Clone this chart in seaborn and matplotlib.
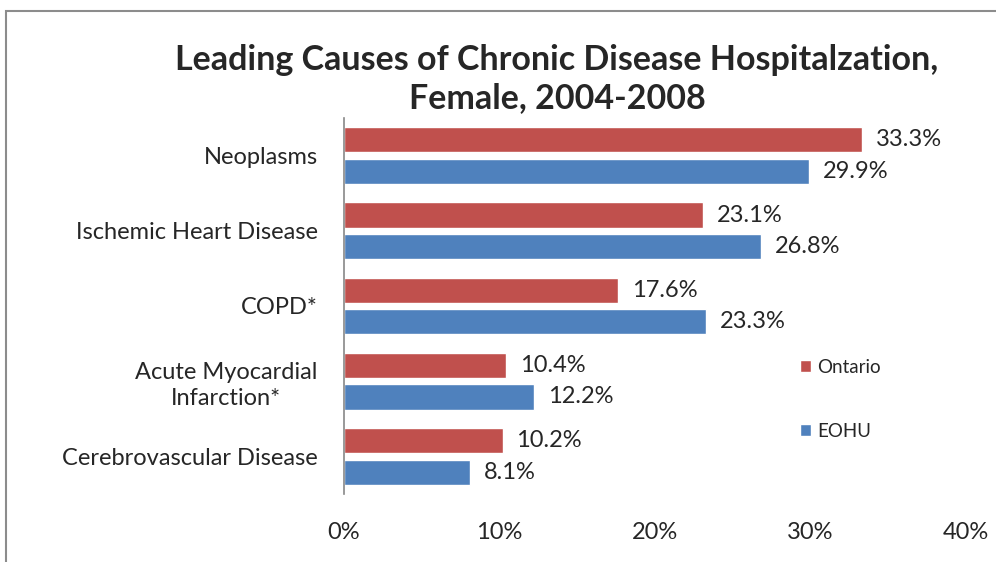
import pandas as pd
import matplotlib
matplotlib.use('Agg')
import matplotlib.pyplot as plt
import seaborn as sns
from matplotlib.patches import Rectangle, Patch

causas = ['Neoplasms', 'Ischemic Heart Disease', 'COPD*',
          'Acute Myocardial\nInfarction*', 'Cerebrovascular Disease']
ontario = [33.3, 23.1, 17.6, 10.4, 10.2]
eohu = [29.9, 26.8, 23.3, 12.2, 8.1]

c_rojo = '#C0504D'
c_azul = '#4F81BD'

df = pd.DataFrame({
    'Causa': causas * 2,
    'Valor': ontario + eohu,
    'Region': ['Ontario'] * len(causas) + ['EOHU'] * len(causas),
})

sns.set_style('white')
plt.rcParams['font.family'] = ['Lato', 'DejaVu Sans']

fig = plt.figure(figsize=(9.96, 5.62), dpi=100)
ax = fig.add_axes([344 / 996, 1 - 494 / 562, (966 - 344) / 996, 376 / 562])

sns.barplot(data=df, y='Causa', x='Valor', hue='Region', orient='h',
            palette=[c_rojo, c_azul], saturation=1, width=0.84, gap=0.2,
            ax=ax, legend=False)

for cont in ax.containers:
    ax.bar_label(cont, labels=[f'{v:.1f}%' for v in cont.datavalues],
                 padding=10, fontsize=17)

ax.set_xlim(0, 40)
ax.set_xticks([0, 10, 20, 30, 40])
ax.set_xticklabels([f'{t}%' for t in [0, 10, 20, 30, 40]], fontsize=17)
ax.tick_params(axis='y', labelsize=17, length=0, pad=19)
ax.tick_params(axis='x', length=0, pad=20)
ax.set_xlabel('')
ax.set_ylabel('')
for lado in ['top', 'right', 'bottom']:
    ax.spines[lado].set_visible(False)
ax.spines['left'].set_color('#888888')
ax.spines['left'].set_linewidth(1.2)
for lbl in ax.get_yticklabels():
    lbl.set_horizontalalignment('right')
    lbl.set_multialignment('center')
    lbl.set_linespacing(1.3)

handles = [Patch(facecolor=c_rojo), Patch(facecolor=c_azul)]
fig.legend(handles, ['Ontario', 'EOHU'], loc='upper left',
           bbox_to_anchor=(783 / 996, 1 - 342 / 562), frameon=False,
           fontsize=13.5, handlelength=0.6, handleheight=0.6,
           handletextpad=0.3, labelspacing=2.5)

fig.text(557 / 996, 1 - 79 / 562, 'Leading Causes of Chronic Disease Hospitalzation,\nFemale, 2004-2008',
         ha='center', va='center', fontsize=24.5, fontweight='bold', linespacing=1.25)

fig.patches.append(Rectangle((6 / 996, -0.1), 1.1, 1 - 11 / 562 + 0.1,
                             transform=fig.transFigure, fill=False,
                             edgecolor='#8c8c8c', linewidth=1.5))

fig.savefig('out.png', dpi=100)
